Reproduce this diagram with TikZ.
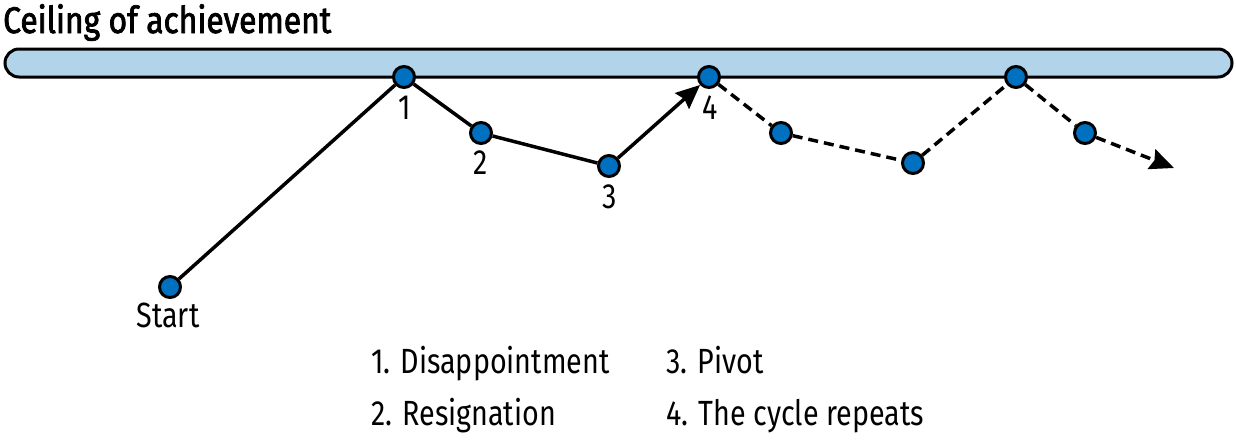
\documentclass[tikz,border=0pt]{standalone}
\usepackage{fontspec}
\setmainfont[FakeStretch=0.82]{Fira Sans}
\newfontfamily\titlefont[FakeStretch=0.86,FakeBold=2]{Fira Sans}
\usetikzlibrary{arrows.meta}
\definecolor{dotblue}{RGB}{0,112,192}
\definecolor{barblue}{RGB}{178,212,234}
\begin{document}
\begin{tikzpicture}[x=1pt,y=-1pt,
  dot/.style={circle, draw=black, fill=dotblue, line width=3pt, minimum size=21pt, inner sep=0pt},
  link/.style={line width=3.5pt},
  dashlink/.style={link, dash pattern=on 10pt off 6pt},
  tip/.style={-{Stealth[length=24pt,width=21pt,inset=3pt]}},
  lbl/.style={font=\fontsize{35}{40}\selectfont, anchor=base, inner sep=0pt},
  leg/.style={font=\fontsize{35}{40}\selectfont, anchor=base west, inner sep=0pt}]
\useasboundingbox (0,0) rectangle (1236,439);
\node[anchor=base west, inner sep=0pt, font=\titlefont\fontsize{37}{42}\selectfont] (title) at (3,33) {Ceiling of achievement};
\draw[line width=3pt, fill=barblue, rounded corners=14pt] (5,49) rectangle (1232,77);
\node[dot] (s) at (170,287) {};
\node[dot] (p1) at (404,77) {};
\node[dot] (p2) at (481,133) {};
\node[dot] (p3) at (609,166) {};
\node[dot] (p4) at (709,77) {};
\node[dot] (p5) at (781,133) {};
\node[dot] (p6) at (913,163) {};
\node[dot] (p7) at (1016,77) {};
\node[dot] (p8) at (1085,133) {};
\coordinate (end) at (1174,168);
\draw[link] (s) -- (p1);
\draw[link] (p1) -- (p2);
\draw[link] (p2) -- (p3);
\draw[link,tip] (p3) -- (p4);
\draw[dashlink] (p4) -- (p5);
\draw[dashlink] (p5) -- (p6);
\draw[dashlink] (p6) -- (p7);
\draw[dashlink] (p7) -- (p8);
\draw[dashlink,tip] (p8) -- (end);
\node[lbl] (l1) at (405,119) {1};
\node[lbl] (l2) at (481,174) {2};
\node[lbl] (l3) at (610,208) {3};
\node[lbl] (l4) at (710,119) {4};
\node[lbl] (ls) at (168,327) {Start};
\node[leg] (g1) at (371,373) {1. Disappointment};
\node[leg] (g2) at (371,425) {2. Resignation};
\node[leg] (g3) at (666,373) {3. Pivot};
\node[leg] (g4) at (666,425) {4. The cycle repeats};
\end{tikzpicture}
\end{document}
